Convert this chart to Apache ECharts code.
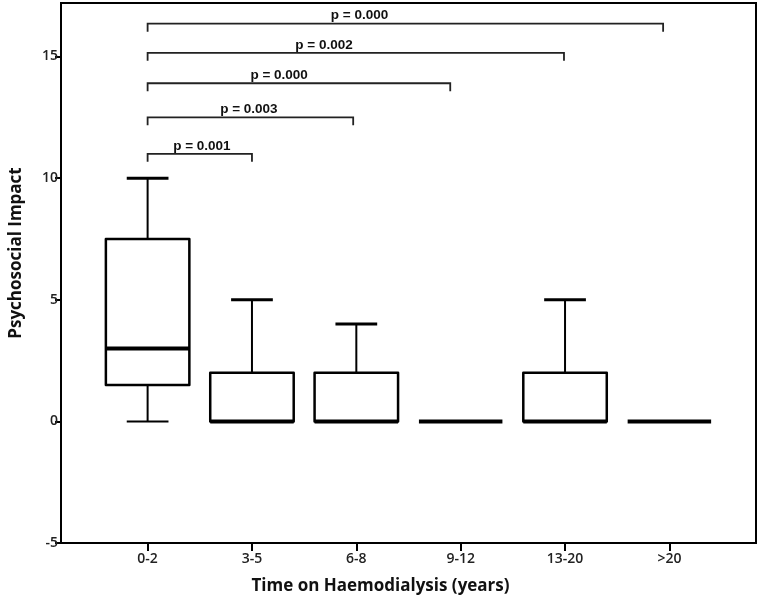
<!DOCTYPE html>
<html>
<head>
<meta charset="utf-8">
<script src="https://cdn.jsdelivr.net/npm/echarts@6/dist/echarts.min.js"></script>
<style>
  html, body { margin: 0; padding: 0; background: #fff; }
  #chart { width: 758px; height: 601px; }
</style>
</head>
<body>
<div id="chart"></div>
<script>
const categories = ['0-2', '3-5', '6-8', '9-12', '13-20', '>20']
// five-number summary per group
const boxMin = [0, 0, 0, 0, 0, 0]
const boxQ1 = [1.5, 0, 0, 0, 0, 0]
const boxMedian = [3, 0, 0, 0, 0, 0]
const boxQ3 = [7.5, 2, 2, 0, 2, 0]
const boxMax = [10, 5, 4, 0, 5, 0]

// significance brackets, all start at 0-2
const pLabels = ['p = 0.001', 'p = 0.003', 'p = 0.000', 'p = 0.002', 'p = 0.000']
const bracketStart = [0, 0, 0, 0, 0]
const bracketEnd = [1, 1.97, 2.9, 3.99, 4.94]
const bracketLevel = [11, 12.5, 13.9, 15.15, 16.35]
const pLabelPos = [0.52, 0.97, 1.26, 1.69, 2.03]

const yTicks = [-5, 0, 5, 10, 15]
const xTicks = categories.map((c, i) => i)

const boxData = categories.map((c, i) => [i, boxMin[i], boxQ1[i], boxMedian[i], boxQ3[i], boxMax[i]])
const bracketData = pLabels.map((t, i) => [bracketStart[i], bracketEnd[i], bracketLevel[i], pLabelPos[i], t])

function renderBox (params, api) {
  const i = api.value(0)
  const cx = api.coord([i, 0])[0]
  const half = api.size([0.8, 0])[0] / 2
  const capHalf = half / 2
  const y = v => api.coord([i, v])[1]
  const min = api.value(1)
  const q1 = api.value(2)
  const med = api.value(3)
  const q3 = api.value(4)
  const max = api.value(5)
  const children = []
  const line = (x1, y1, x2, y2, w) => ({
    type: 'line',
    shape: { x1, y1, x2, y2 },
    style: { stroke: '#000', lineWidth: w }
  })
  if (max > q3) {
    children.push(line(cx, y(q3), cx, y(max), 2))
    children.push(line(cx - capHalf, y(max), cx + capHalf, y(max), 3))
  }
  if (min < q1) {
    children.push(line(cx, y(q1), cx, y(min), 2))
    children.push(line(cx - capHalf, y(min), cx + capHalf, y(min), 2))
  }
  if (q3 > q1) {
    children.push({
      type: 'rect',
      shape: { x: cx - half, y: y(q3), width: half * 2, height: y(q1) - y(q3) },
      style: { fill: '#fff', stroke: '#000', lineWidth: 2.5, lineJoin: 'round' }
    })
  }
  children.push(line(cx - half, y(med), cx + half, y(med), 4))
  return { type: 'group', children }
}

function renderBracket (params, api) {
  const x0 = api.coord([api.value(0), 0])[0]
  const x1 = api.coord([api.value(1), 0])[0]
  const ly = api.coord([0, api.value(2)])[1]
  const tx = api.coord([api.value(3), 0])[0]
  return {
    type: 'group',
    children: [
      {
        type: 'polyline',
        shape: { points: [[x0, ly + 8], [x0, ly], [x1, ly], [x1, ly + 8]] },
        style: { stroke: '#222', lineWidth: 1.8, fill: null }
      },
      {
        type: 'text',
        x: tx,
        y: ly - 1,
        style: {
          text: api.value(4),
          align: 'center',
          verticalAlign: 'bottom',
          font: 'bold 13.5px "Liberation Sans", Arial, sans-serif',
          fill: '#111'
        }
      }
    ]
  }
}

const chart = echarts.init(document.getElementById('chart'))
chart.setOption({
  backgroundColor: '#fff',
  animation: false,
  grid: {
    left: 61,
    right: 2,
    top: 3,
    bottom: 58,
    show: true,
    borderColor: '#000',
    borderWidth: 2
  },
  xAxis: {
    type: 'value',
    min: -0.83,
    max: 5.83,
    name: 'Time on Haemodialysis (years)',
    nameLocation: 'middle',
    nameGap: 35,
    nameTextStyle: {
      fontFamily: 'Open Sans',
      fontWeight: 'bold',
      fontSize: 17,
      color: '#111',
      padding: [0, 56, 0, 0]
    },
    splitLine: { show: false },
    axisLine: { onZero: false, lineStyle: { color: '#000', width: 2 } },
    axisTick: { customValues: xTicks, length: 8, lineStyle: { color: '#000', width: 2 } },
    axisLabel: {
      customValues: xTicks,
      formatter: v => categories[v],
      fontFamily: 'Open Sans',
      fontSize: 14,
      fontWeight: 600,
      color: '#222',
      margin: 9
    }
  },
  yAxis: {
    type: 'value',
    min: -5,
    max: 17.2,
    name: 'Psychosocial Impact',
    nameLocation: 'middle',
    nameGap: 36,
    nameTextStyle: {
      fontFamily: 'Open Sans',
      fontWeight: 'bold',
      fontSize: 17,
      color: '#111',
      padding: [0, 0, 0, 40]
    },
    splitLine: { show: false },
    axisLine: { onZero: false, lineStyle: { color: '#000', width: 2 } },
    axisTick: { customValues: yTicks, length: 6, lineStyle: { color: '#000', width: 2 } },
    axisLabel: {
      customValues: yTicks,
      fontFamily: 'Open Sans',
      fontSize: 14,
      fontWeight: 600,
      color: '#222',
      margin: 3
    }
  },
  series: [
    {
      type: 'custom',
      renderItem: renderBox,
      data: boxData,
      encode: { x: 0, y: [1, 2, 3, 4, 5] },
      clip: false
    },
    {
      type: 'custom',
      renderItem: renderBracket,
      data: bracketData,
      encode: { x: [0, 1], y: 2 },
      clip: false
    }
  ]
})
</script>
</body>
</html>
